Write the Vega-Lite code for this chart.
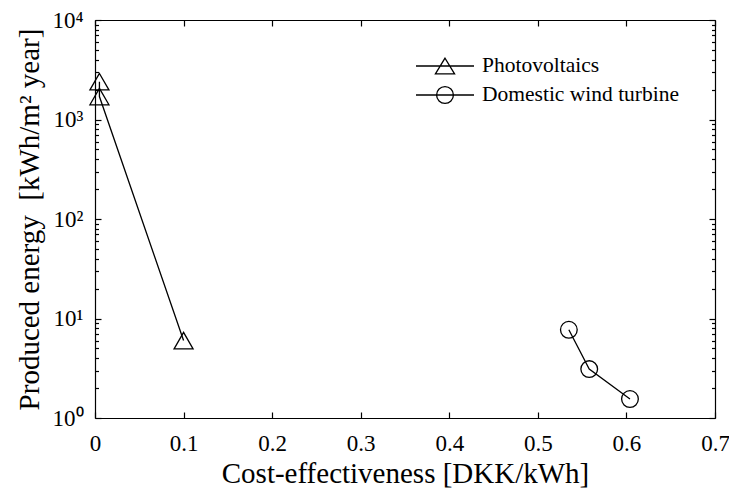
{
  "$schema": "https://vega.github.io/schema/vega-lite/v6.json",
  "autosize": "none",
  "width": 620,
  "height": 398,
  "padding": {"left": 95, "top": 20, "right": 14, "bottom": 75},
  "background": "white",
  "config": {
    "view": {"stroke": null},
    "font": "Liberation Serif",
    "axis": {
      "grid": false,
      "domainColor": "black",
      "domainWidth": 1.2,
      "tickColor": "black",
      "tickWidth": 1.2,
      "labelColor": "black",
      "titleColor": "black",
      "labelFont": "Liberation Serif",
      "titleFont": "Liberation Serif",
      "labelFontSize": 23,
      "titleFontSize": 29,
      "titleFontWeight": "normal",
      "labelOverlap": false,
      "labelFlush": false,
      "labelBound": false
    }
  },
  "data": {
    "values": [
      {"series": "Photovoltaics", "i": 1, "cost": 0.005, "energy": 2400},
      {"series": "Photovoltaics", "i": 2, "cost": 0.005, "energy": 1700},
      {"series": "Photovoltaics", "i": 3, "cost": 0.1, "energy": 6.0},
      {"series": "Domestic wind turbine", "i": 1, "cost": 0.535, "energy": 7.7},
      {"series": "Domestic wind turbine", "i": 2, "cost": 0.558, "energy": 3.1},
      {"series": "Domestic wind turbine", "i": 3, "cost": 0.604, "energy": 1.55}
    ]
  },
  "resolve": {
    "scale": {"x": "shared", "y": "shared"},
    "axis": {"x": "independent", "y": "independent"}
  },
  "layer": [
    {
      "mark": {"type": "line", "color": "black", "strokeWidth": 1.3},
      "encoding": {
        "x": {
          "field": "cost",
          "type": "quantitative",
          "scale": {"domain": [0, 0.7], "nice": false, "zero": false},
          "axis": {
            "orient": "bottom",
            "values": [0, 0.1, 0.2, 0.3, 0.4, 0.5, 0.6, 0.7],
            "format": "~g",
            "tickSize": -6,
            "labelPadding": 20,
            "labelFont": "Liberation Serif",
            "title": "Cost-effectiveness [DKK/kWh]",
            "titleY": 55,
            "titleBaseline": "middle"
          }
        },
        "y": {
          "field": "energy",
          "type": "quantitative",
          "scale": {"type": "log", "domain": [1, 10000], "nice": false},
          "axis": {
            "orient": "left",
            "values": [1, 2, 3, 4, 5, 6, 7, 8, 9, 10, 20, 30, 40, 50, 60, 70, 80, 90, 100, 200, 300, 400, 500, 600, 700, 800, 900, 1000, 2000, 3000, 4000, 5000, 6000, 7000, 8000, 9000, 10000],
            "tickSize": {"condition": {"test": "indexof([1,10,100,1000,10000], datum.value) >= 0", "value": -6}, "value": -3.5},
            "labelExpr": "indexof([1,10,100,1000,10000], datum.value) >= 0 ? '10' + ['⁰','¹','²','³','⁴'][indexof([1,10,100,1000,10000], datum.value)] : ''",
            "labelPadding": 18,
            "labelFont": "Liberation Serif",
            "title": "Produced energy\u00a0 [kWh/m² year]",
            "titleX": -66,
            "titleY": 199,
            "titleAngle": -90,
            "titleBaseline": "middle",
            "titleAlign": "center"
          }
        },
        "detail": {"field": "series"},
        "order": {"field": "i"}
      }
    },
    {
      "transform": [{"filter": "datum.series === 'Photovoltaics'"}],
      "mark": {"type": "point", "shape": "triangle-up", "filled": false, "color": "black", "strokeWidth": 1.3, "opacity": 1, "size": 361},
      "encoding": {
        "x": {
          "field": "cost",
          "type": "quantitative",
          "axis": {
            "orient": "top",
            "values": [0, 0.1, 0.2, 0.3, 0.4, 0.5, 0.6, 0.7],
            "tickSize": -6,
            "labels": false,
            "title": null
          }
        },
        "y": {
          "field": "energy",
          "type": "quantitative",
          "axis": {
            "orient": "right",
            "values": [1, 2, 3, 4, 5, 6, 7, 8, 9, 10, 20, 30, 40, 50, 60, 70, 80, 90, 100, 200, 300, 400, 500, 600, 700, 800, 900, 1000, 2000, 3000, 4000, 5000, 6000, 7000, 8000, 9000, 10000],
            "tickSize": {"condition": {"test": "indexof([1,10,100,1000,10000], datum.value) >= 0", "value": -6}, "value": -3.5},
            "labels": false,
            "title": null
          }
        }
      }
    },
    {
      "transform": [{"filter": "datum.series === 'Domestic wind turbine'"}],
      "mark": {"type": "point", "shape": "circle", "filled": false, "color": "black", "strokeWidth": 1.3, "opacity": 1, "size": 279},
      "encoding": {
        "x": {"field": "cost", "type": "quantitative", "axis": null},
        "y": {"field": "energy", "type": "quantitative", "axis": null}
      }
    },
    {
      "transform": [{"filter": "datum.i > 99"}],
      "mark": {"type": "point", "filled": false, "color": "black", "strokeWidth": 1.3, "opacity": 1},
      "encoding": {
        "x": {"field": "cost", "type": "quantitative", "axis": null},
        "y": {"field": "energy", "type": "quantitative", "axis": null},
        "shape": {
          "field": "series",
          "type": "nominal",
          "scale": {
            "domain": ["Photovoltaics", "Domestic wind turbine"],
            "range": ["M-1,0H1M0,-0.27L-0.33,0.27L0.33,0.27Z", "M-1,0H1M-0.29,0A0.29,0.29,0,1,1,0.29,0A0.29,0.29,0,1,1,-0.29,0"]
          },
          "legend": {
            "title": null,
            "orient": "none",
            "legendX": 320,
            "legendY": 32,
            "direction": "vertical",
            "padding": 0,
            "symbolSize": 3364,
            "symbolStrokeWidth": 1.3,
            "symbolStrokeColor": "black",
            "symbolFillColor": "transparent",
            "symbolOpacity": 1,
            "clipHeight": 28,
            "rowPadding": 1,
            "labelFont": "Liberation Serif",
            "labelFontSize": 21.5,
            "labelColor": "black",
            "labelOffset": 7,
            "labelLimit": 400
          }
        }
      }
    }
  ]
}
